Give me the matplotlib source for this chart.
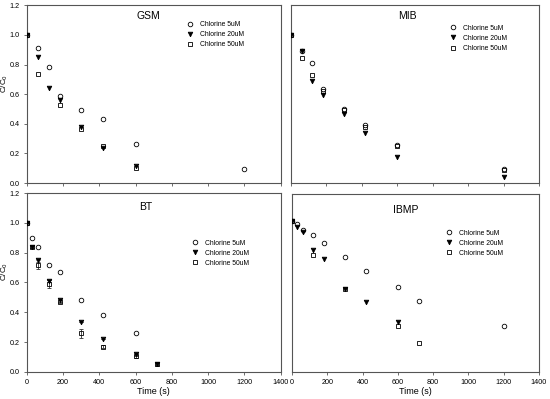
import numpy as np
import matplotlib.pyplot as plt

plt.rcParams['font.family'] = ['Liberation Sans', 'DejaVu Sans']

# GSM
gsm_t5 = [0, 60, 120, 180, 300, 420, 600, 1200]
gsm_c5 = [1.0, 0.91, 0.78, 0.59, 0.49, 0.43, 0.265, 0.092]
gsm_t20 = [0, 60, 120, 180, 300, 420, 600]
gsm_c20 = [1.0, 0.85, 0.64, 0.56, 0.38, 0.235, 0.117]
gsm_t50 = [0, 60, 180, 300, 420, 600]
gsm_c50 = [1.0, 0.737, 0.528, 0.368, 0.25, 0.103]

# MIB
mib_t = [0, 60, 120, 180, 300, 420, 600, 1200]
mib_c5 = [1.0, 0.89, 0.807, 0.636, 0.503, 0.39, 0.258, 0.094]
mib_c20 = [1.0, 0.89, 0.69, 0.595, 0.465, 0.34, 0.175, 0.04]
mib_c50 = [1.0, 0.847, 0.73, 0.62, 0.49, 0.377, 0.25, 0.088]

# BT
bt_t5 = [0, 30, 60, 120, 180, 300, 420, 600]
bt_c5 = [1.0, 0.90, 0.84, 0.72, 0.673, 0.485, 0.384, 0.262]
bt_t = [0, 30, 60, 120, 180, 300, 420, 600, 720]
bt_c20 = [1.0, 0.84, 0.75, 0.61, 0.48, 0.336, 0.224, 0.117, 0.05]
bt_e20 = [0, 0.01, 0.01, 0.01, 0.01, 0.0, 0.0, 0.01, 0.01]
bt_c50 = [1.0, 0.84, 0.72, 0.59, 0.47, 0.26, 0.17, 0.105, 0.055]
bt_e50 = [0, 0.01, 0.03, 0.03, 0.01, 0.03, 0.01, 0.01, 0.01]

# IBMP
ibmp_t5 = [0, 30, 60, 120, 180, 300, 420, 600, 720, 1200]
ibmp_c5 = [1.02, 1.0, 0.96, 0.922, 0.87, 0.776, 0.68, 0.574, 0.478, 0.307]
ibmp_t20 = [0, 30, 60, 120, 180, 300, 420, 600]
ibmp_c20 = [1.02, 0.974, 0.944, 0.823, 0.758, 0.56, 0.473, 0.334]
ibmp_t50 = [0, 120, 300, 600, 720]
ibmp_c50 = [1.02, 0.79, 0.56, 0.307, 0.195]

labels = ['Chlorine 5uM', 'Chlorine 20uM', 'Chlorine 50uM']
spine_col = '#555555'


def draw_panel(ax, title, series, title_pos, leg_pos, xlabels, ylabels):
    marks = ['o', 'v', 's']
    zords = [3, 5, 4]
    for (t, c, e), m, z, lab in zip(series, marks, zords, labels):
        face = 'black' if m == 'v' else 'none'
        if e is not None:
            ax.errorbar(t, c, yerr=e, fmt='none', ecolor='#333333', elinewidth=0.6,
                        capsize=1.5, capthick=0.6, zorder=2)
        ax.plot(t, c, m, ms=3.3, mfc=face, mec='black', mew=0.6, ls='none',
                label=lab, zorder=z)
    ax.set_xlim(0, 1400)
    ax.set_ylim(0, 1.2)
    ax.set_xticks(np.arange(0, 1401, 200))
    ax.set_yticks(np.arange(0, 1.21, 0.2))
    ax.text(title_pos[0], title_pos[1], title, transform=ax.transAxes,
            ha='center', va='center', fontsize=7.5)
    ax.legend(loc='upper left', bbox_to_anchor=leg_pos, frameon=False,
              fontsize=4.9, handlelength=1.0, handletextpad=1.0,
              labelspacing=0.45, borderpad=0, borderaxespad=0)
    for s in ax.spines.values():
        s.set_color(spine_col)
        s.set_linewidth(0.8)
    ax.tick_params(direction='out', length=2.5, width=0.6, color=spine_col,
                   labelsize=5.2, pad=2.5)
    if not xlabels:
        ax.tick_params(axis='x', labelbottom=False)
    else:
        ax.set_xlabel('Time (s)', fontsize=6.5, labelpad=1)
    if not ylabels:
        ax.tick_params(axis='y', left=False, labelleft=False)
    else:
        ax.yaxis.set_major_formatter(plt.FormatStrFormatter('%.1f'))
        ax.set_ylabel('C/C$_0$', fontsize=5.8)
        ax.yaxis.set_label_coords(-0.066, 0.56)


fig = plt.figure(figsize=(5.5, 3.99), dpi=100)
ax_gsm = fig.add_axes([0.049, 0.541, 0.461, 0.446])
ax_mib = fig.add_axes([0.529, 0.541, 0.451, 0.446])
ax_bt = fig.add_axes([0.049, 0.068, 0.461, 0.448])
ax_ibmp = fig.add_axes([0.531, 0.068, 0.449, 0.446])

draw_panel(ax_gsm, 'GSM',
           [(gsm_t5, gsm_c5, None), (gsm_t20, gsm_c20, None), (gsm_t50, gsm_c50, None)],
           (0.48, 0.94), (0.63, 0.91), False, True)
draw_panel(ax_mib, 'MIB',
           [(mib_t, mib_c5, None), (mib_t, mib_c20, None), (mib_t, mib_c50, None)],
           (0.47, 0.94), (0.64, 0.89), False, False)
draw_panel(ax_bt, 'BT',
           [(bt_t5, bt_c5, None), (bt_t, bt_c20, bt_e20), (bt_t, bt_c50, bt_e50)],
           (0.47, 0.92), (0.65, 0.74), True, True)
draw_panel(ax_ibmp, 'IBMP',
           [(ibmp_t5, ibmp_c5, None), (ibmp_t20, ibmp_c20, None), (ibmp_t50, ibmp_c50, None)],
           (0.46, 0.91), (0.62, 0.80), True, False)

fig.savefig('out.png', dpi=100)
